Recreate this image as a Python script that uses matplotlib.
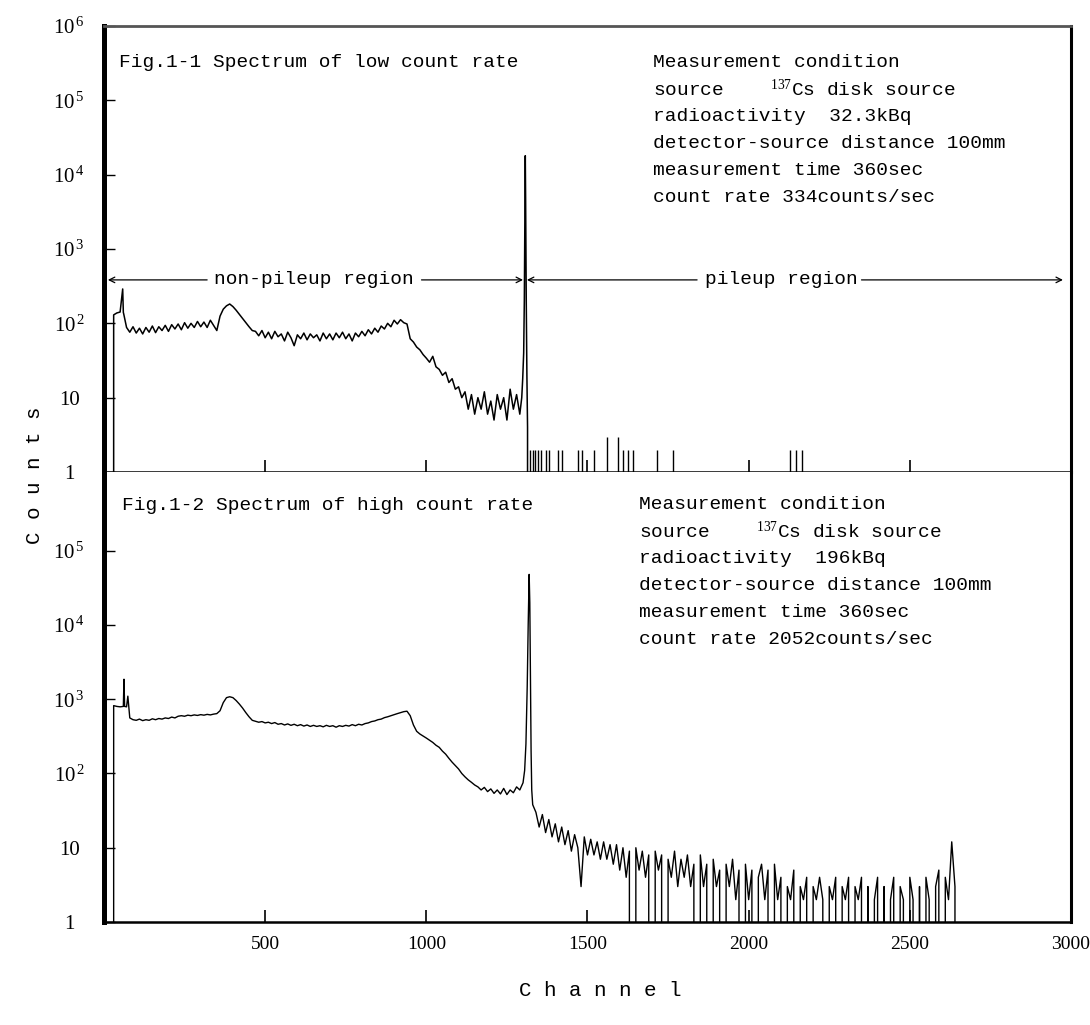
import numpy as np
import matplotlib
matplotlib.use("Agg")
import matplotlib.pyplot as plt

plt.rcParams['mathtext.fontset'] = 'custom'
plt.rcParams['mathtext.rm'] = 'Liberation Serif'
plt.rcParams['mathtext.it'] = 'Liberation Serif:italic'
plt.rcParams['mathtext.bf'] = 'Liberation Serif:bold'

MONO = ['Liberation Mono', 'DejaVu Sans Mono']
SERIF = ['Liberation Serif', 'DejaVu Serif']

# ---- Fig.1-1 low count rate: counts read every 10 channels from 0 to 1290
low_start, low_step = 0, 10
low_counts = [
    0, 0, 0, 130, 138, 142, 140, 88, 76, 90,
    74, 86, 72, 88, 76, 92, 75, 90, 80, 94,
    78, 96, 84, 98, 82, 102, 86, 100, 88, 106,
    90, 104, 88, 110, 94, 80, 125, 155, 172, 182,
    168, 150, 132, 116, 102, 90, 80, 78, 68, 80,
    64, 76, 62, 78, 66, 72, 58, 76, 64, 50,
    70, 62, 74, 60, 72, 64, 70, 58, 74, 62,
    72, 60, 74, 64, 76, 62, 72, 58, 74, 66,
    78, 68, 82, 72, 86, 76, 92, 84, 100, 90,
    110, 98, 112, 102, 98, 62, 56, 48, 44, 38,
    34, 30, 36, 26, 24, 20, 22, 16, 18, 13,
    14, 10, 12, 7, 11, 6, 10, 7, 12, 6,
    9, 5, 11, 7, 10, 5, 13, 7, 11, 6,
]
# finer readings: low-energy spike and the 662 keV photopeak
low_extra_ch = [58, 61, 1296, 1299, 1302, 1304, 1306, 1307, 1308, 1310, 1312, 1314, 1316]
low_extra_counts = [290, 135, 10, 18, 40, 200, 3000, 18000, 5000, 200, 20, 4, 0]
# isolated counts in the pileup region
low_pileup_ch = [1323, 1330, 1338, 1345, 1357, 1370, 1382, 1407, 1422, 1472, 1484,
                 1519, 1562, 1596, 1609, 1627, 1640, 1717, 1764, 2127, 2146, 2165]
low_pileup_counts = [2, 2, 2, 2, 2, 2, 2, 2, 2, 2, 2,
                     2, 3, 3, 2, 2, 2, 2, 2, 2, 2, 2]

# ---- Fig.1-2 high count rate: counts every 10 channels from 0 to 1300
high_start, high_step = 0, 10
high_counts = [
    0, 0, 0, 820, 800, 790, 800, 790, 560, 530,
    520, 540, 515, 530, 520, 545, 530, 550, 540, 560,
    550, 575, 560, 590, 600, 590, 610, 600, 615, 605,
    620, 610, 625, 615, 630, 640, 700, 900, 1050, 1080,
    1050, 960, 860, 760, 660, 580, 520, 505, 490, 500,
    480, 490, 470, 485, 460, 470, 450, 465, 445, 460,
    440, 455, 435, 450, 430, 445, 430, 440, 425, 445,
    430, 440, 420, 440, 430, 445, 435, 455, 440, 460,
    450, 470, 480, 500, 510, 530, 540, 565, 580, 600,
    620, 640, 660, 680, 690, 600, 450, 370, 340, 320,
    300, 280, 262, 240, 225, 200, 182, 160, 142, 128,
    115, 100, 90, 82, 76, 70, 66, 60, 65, 57,
    62, 54, 60, 53, 63, 52, 60, 55, 66, 60, 75,
]
high_extra_ch = [62, 64, 74, 77, 1305, 1309, 1313, 1316, 1319, 1321, 1323, 1325, 1327, 1330]
high_extra_counts = [1860, 800, 1100, 790, 110, 250, 1500, 10000, 48000, 20000, 2000, 200, 60, 38]
# pileup tail, every 10 channels from 1340 to 2660
tail_start, tail_step = 1340, 10
high_tail = [
    30, 19, 28, 16, 24, 14, 21, 12, 19, 11,
    17, 9, 15, 10, 3, 14, 8, 13, 8, 12,
    7, 12, 7, 11, 6, 11, 5, 10, 4, 9,
    0, 10, 5, 9, 4, 8, 0, 9, 5, 8,
    0, 7, 4, 9, 3, 7, 4, 8, 3, 6,
    0, 8, 3, 6, 0, 7, 3, 5, 0, 6,
    3, 7, 2, 5, 0, 6, 2, 5, 0, 4,
    6, 2, 5, 0, 6, 2, 4, 0, 3, 2,
    5, 0, 3, 2, 4, 0, 3, 2, 4, 2,
    0, 3, 2, 4, 0, 3, 2, 4, 0, 3,
    2, 4, 0, 3, 0, 2, 4, 0, 3, 0,
    2, 4, 0, 3, 2, 0, 4, 2, 0, 3,
    0, 4, 2, 0, 3, 5, 0, 4, 2, 12,
    3, 0, 0,
]

y_ticks = [1, 10, 100, 1e3, 1e4, 1e5, 1e6]
y_labels = ['1', '10', r'$\mathregular{10^{\,2}}$', r'$\mathregular{10^{\,3}}$',
            r'$\mathregular{10^{\,4}}$', r'$\mathregular{10^{\,5}}$', r'$\mathregular{10^{\,6}}$']
x_ticks = [500, 1000, 1500, 2000, 2500, 3000]

low_text = ['Measurement condition',
            'source    $^{137}$Cs disk source',
            'radioactivity  32.3kBq',
            'detector-source distance 100mm',
            'measurement time 360sec',
            'count rate 334counts/sec']
high_text = ['Measurement condition',
             'source    $^{137}$Cs disk source',
             'radioactivity  196kBq',
             'detector-source distance 100mm',
             'measurement time 360sec',
             'count rate 2052counts/sec']


def spectrum(start, step, counts, extra_ch=(), extra_counts=()):
    d = {start + step * i: c for i, c in enumerate(counts)}
    for c, v in zip(extra_ch, extra_counts):
        d[c] = v
    ch = np.array(sorted(d))
    return ch, np.array([d[c] for c in ch], dtype=float)


low_ch, low_y = spectrum(low_start, low_step, low_counts, low_extra_ch, low_extra_counts)
high_ch, high_y = spectrum(high_start, high_step, high_counts, high_extra_ch, high_extra_counts)
tail_ch, tail_y = spectrum(tail_start, tail_step, high_tail)
high_ch = np.concatenate([high_ch, tail_ch])
high_y = np.concatenate([high_y, tail_y])

fig = plt.figure(figsize=(10.9, 10.25), dpi=100)
ax1 = fig.add_axes([0.09541, 0.53951, 0.88716, 0.43512])
ax2 = fig.add_axes([0.09541, 0.10049, 0.88716, 0.43902])

for ax in (ax1, ax2):
    ax.set_yscale('log', nonpositive='clip')
    ax.set_xlim(0, 3000)
    ax.minorticks_off()
    ax.spines['left'].set_linewidth(3.6)
    ax.spines['right'].set_linewidth(2.2)
    ax.spines['bottom'].set_linewidth(1.8)
    ax.tick_params(axis='y', direction='in', length=8, width=1.0, pad=25,
                   labelsize=15, right=False)
    ax.tick_params(axis='x', direction='in', length=9, width=1.2, pad=10,
                   labelsize=14, top=False)

# top panel
ax1.plot(low_ch, low_y, color='black', lw=1.1)
ax1.vlines(low_pileup_ch, 1, low_pileup_counts, color='black', lw=1.0)
ax1.set_ylim(1, 1e6)
ax1.set_yticks(y_ticks)
ax1.set_yticklabels(y_labels)
ax1.set_xticks(x_ticks[:-1])
ax1.set_xticklabels([])
ax1.spines['top'].set_linewidth(2.0)
ax1.spines['top'].set_color('#555555')

# bottom panel
ax2.plot(high_ch, high_y, color='black', lw=1.0)
ax2.set_ylim(1, 10 ** 6.06)
ax2.set_yticks(y_ticks[:-1])
ax2.set_yticklabels(y_labels[:-1])
ax2.set_xticks(x_ticks)
ax2.set_xticklabels([str(v) for v in x_ticks])
ax2.spines['top'].set_visible(False)

for ax in (ax1, ax2):
    for lab in ax.get_yticklabels():
        lab.set_horizontalalignment('center')
        lab.set_fontfamily(SERIF)
    for lab in ax.get_xticklabels():
        lab.set_fontfamily(SERIF)

# region arrows in the top panel
arrow_y = 384
ap = dict(arrowstyle='->', lw=0.9, color='black', shrinkA=0, shrinkB=0)
ax1.annotate('', xy=(12, arrow_y), xytext=(320, arrow_y), arrowprops=ap)
ax1.annotate('', xy=(1300, arrow_y), xytext=(985, arrow_y), arrowprops=ap)
ax1.text(650, arrow_y, 'non-pileup region', fontsize=14, family=MONO,
         ha='center', va='center')
ax1.annotate('', xy=(1312, arrow_y), xytext=(1840, arrow_y), arrowprops=ap)
ax1.annotate('', xy=(2975, arrow_y), xytext=(2350, arrow_y), arrowprops=ap)
ax1.text(2100, arrow_y, 'pileup region', fontsize=14, family=MONO,
         ha='center', va='center')

# panel captions and measurement conditions
ax1.text(0.015, 0.919, 'Fig.1-1 Spectrum of low count rate', transform=ax1.transAxes,
         fontsize=14, family=MONO, ha='left', va='center')
for i, line in enumerate(low_text):
    ax1.text(0.568, 0.919 - i * 0.0605, line, transform=ax1.transAxes,
             fontsize=14, family=MONO, ha='left', va='center')

ax2.text(0.019, 0.925, 'Fig.1-2 Spectrum of high count rate', transform=ax2.transAxes,
         fontsize=14, family=MONO, ha='left', va='center')
for i, line in enumerate(high_text):
    ax2.text(0.553, 0.927 - i * 0.0600, line, transform=ax2.transAxes,
             fontsize=14, family=MONO, ha='left', va='center')

fig.text(34 / 1090, 1 - 475 / 1025, 'C o u n t s', rotation=90, fontsize=15,
         family=MONO, ha='center', va='center')
fig.text(600 / 1090, 1 - 990 / 1025, 'C h a n n e l', fontsize=15,
         family=MONO, ha='center', va='center')

fig.savefig('out.png', dpi=100)
